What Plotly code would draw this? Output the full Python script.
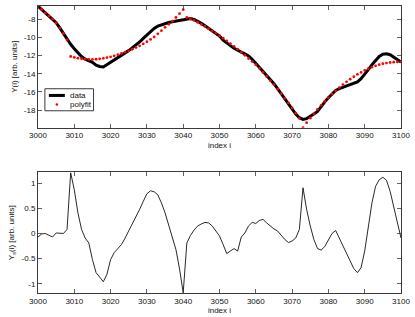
import plotly.graph_objects as go

# ---------------- data ----------------
idx = list(range(3000, 3101))

data_y = [
    -6.55, -6.9, -7.3, -7.65, -8.0, -8.37, -8.95, -9.55, -10.2, -10.75,
    -11.25, -11.7, -12.1, -12.4, -12.55, -12.75, -13.05, -13.2, -13.26, -13.0,
    -12.65, -12.4, -12.2, -11.95, -11.7, -11.45, -11.15, -10.85, -10.5, -10.1,
    -9.7, -9.35, -9.0, -8.75, -8.6, -8.45, -8.35, -8.27, -8.2, -8.12,
    -8.07, -7.95, -7.92, -8.02, -8.2, -8.45, -8.72, -9.0, -9.25, -9.5,
    -9.85, -10.3, -10.65, -10.9, -11.2, -11.45, -11.62, -11.8, -12.05, -12.4,
    -12.85, -13.25, -13.65, -14.1, -14.6, -15.1, -15.65, -16.2, -16.75, -17.4,
    -17.95, -18.45, -18.85, -19.03, -18.95, -18.73, -18.45, -18.15, -17.6, -17.1,
    -16.65, -16.2, -15.85, -15.65, -15.5, -15.38, -15.25, -15.1, -14.9, -14.55,
    -14.1, -13.55, -13.0, -12.5, -12.1, -11.85, -11.8, -11.9, -12.15, -12.4,
    -12.7,
]

fit_y = [
    -6.5, -6.9, -7.3, -7.62, -7.95, -8.38, -8.95, -9.55, -10.28,
    -12.1, -12.2, -12.28, -12.35, -12.4, -12.42, -12.42, -12.4, -12.36, -12.3,
    -12.22, -12.13, -12.02, -11.9, -11.76, -11.62, -11.47, -11.3, -11.12, -10.92,
    -10.7, -10.47, -10.22, -9.95, -9.6, -9.25, -8.88, -8.55, -8.2, -7.8,
    -7.38, -6.92,
    -7.8, -7.95, -8.12, -8.32, -8.55, -8.78, -9.02, -9.27, -9.52, -9.8,
    -10.08, -10.37, -10.67, -10.98, -11.3, -11.63, -11.97, -12.32, -12.66, -13.0,
    -13.4, -13.85, -14.3, -14.75, -15.2, -15.7, -16.2, -16.7, -17.22, -17.78,
    -18.35, -18.92, -19.95,
    -19.4, -18.9, -18.4, -17.93, -17.48, -17.05, -16.64, -16.25, -15.88, -15.53,
    -15.2, -14.89, -14.6, -14.33, -14.08, -13.85, -13.64, -13.45, -13.28, -13.13,
    -13.0, -12.9, -12.82, -12.76, -12.72, -12.7, -12.7,
]

ys = [
    -0.07, -0.01, 0.0, -0.04, -0.07, 0.01, 0.01, 0.0, 0.08, 1.21,
    0.87, 0.41, 0.08, -0.09, -0.19, -0.52, -0.78, -0.86, -0.96, -0.81,
    -0.52, -0.38, -0.30, -0.22, -0.09, 0.05, 0.18, 0.31, 0.48, 0.64,
    0.79, 0.85, 0.83, 0.77, 0.61, 0.41, 0.18, -0.05, -0.32, -0.71,
    -1.18, -0.19, -0.04, 0.07, 0.15, 0.19, 0.22, 0.21, 0.15, 0.05,
    -0.05, -0.22, -0.40, -0.35, -0.30, -0.35, -0.07, 0.01, 0.15, 0.22,
    0.20, 0.26, 0.28, 0.21, 0.15, 0.09, 0.05, -0.04, -0.12, -0.18,
    -0.15, -0.09, 0.08, 0.91, 0.48, 0.15, -0.12, -0.30, -0.33, -0.26,
    -0.12, 0.0, 0.06, -0.09, -0.26, -0.42, -0.55, -0.70, -0.78, -0.68,
    -0.35, 0.15, 0.61, 0.94, 1.07, 1.12, 1.06, 0.84, 0.54, 0.24,
    -0.09,
]

x_ticks = [3000, 3010, 3020, 3030, 3040, 3050, 3060, 3070, 3080, 3090, 3100]
x_ticktext = [str(v) for v in x_ticks]
y1_ticks = [-18, -16, -14, -12, -10, -8]
y1_ticktext = ["-18", "-16", "-14", "-12", "-10", "-8"]
y2_ticks = [-1, -0.5, 0, 0.5, 1]
y2_ticktext = ["-1", "-0.5", "0", "0.5", "1"]
legend_labels = ["data", "polyfit"]

FONT = "Liberation Sans, Arial, sans-serif"
LINE = "#3a3a3a"

fig = go.Figure()
fig.add_trace(go.Scatter(x=idx, y=data_y, mode="lines", name=legend_labels[0],
                         line=dict(color="black", width=3),
                         xaxis="x", yaxis="y", showlegend=False))
fig.add_trace(go.Scatter(x=idx, y=fit_y, mode="markers", name=legend_labels[1],
                         marker=dict(color="red", size=2.8, line=dict(width=0)),
                         xaxis="x", yaxis="y", showlegend=False))
fig.add_trace(go.Scatter(x=idx, y=ys, mode="lines", name="Ys", showlegend=False,
                         line=dict(color="#111111", width=0.9),
                         xaxis="x2", yaxis="y2"))

axis_common = dict(showgrid=False, zeroline=False, showline=True, linecolor=LINE,
                   linewidth=1, mirror="ticks", ticks="inside", ticklen=4,
                   tickcolor=LINE, tickwidth=0.8,
                   tickfont=dict(family=FONT, size=8, color="#111"))

# compact legend box drawn in the top axes (domain coordinates)
shapes = [
    dict(type="rect", xref="x domain", yref="y domain",
         x0=0.019, x1=0.153, y0=0.139, y1=0.32,
         line=dict(color=LINE, width=1), fillcolor="white", layer="above"),
    dict(type="line", xref="x domain", yref="y domain",
         x0=0.030, x1=0.074, y0=0.265, y1=0.265,
         line=dict(color="black", width=3), layer="above"),
    dict(type="circle", xref="x domain", yref="y domain",
         x0=0.0485, x1=0.0555, y0=0.181, y1=0.201,
         line=dict(width=0), fillcolor="red", layer="above"),
]
annotations = [
    dict(text=legend_labels[0], xref="x domain", yref="y domain",
         x=0.082, y=0.265, xanchor="left", yanchor="middle", showarrow=False,
         font=dict(family=FONT, size=8, color="#111")),
    dict(text=legend_labels[1], xref="x domain", yref="y domain",
         x=0.082, y=0.191, xanchor="left", yanchor="middle", showarrow=False,
         font=dict(family=FONT, size=8, color="#111")),
]

fig.update_layout(
    width=415, height=317,
    margin=dict(l=38, r=12, t=5, b=24),
    paper_bgcolor="white", plot_bgcolor="white",
    font=dict(family=FONT, size=8, color="#111"),
    showlegend=False,
    shapes=shapes,
    annotations=annotations,
    xaxis=dict(domain=[0, 1], anchor="y", range=[3000, 3100],
               tickvals=x_ticks, ticktext=x_ticktext,
               title=dict(text="index i", standoff=3,
                          font=dict(family=FONT, size=8)),
               **axis_common),
    yaxis=dict(domain=[0.576, 1], anchor="x", range=[-19.95, -6.53],
               tickvals=y1_ticks, ticktext=y1_ticktext,
               title=dict(text="Y(i) [arb. units]", standoff=5,
                          font=dict(family=FONT, size=8)),
               **axis_common),
    xaxis2=dict(domain=[0, 1], anchor="y2", range=[3000, 3100],
                tickvals=x_ticks, ticktext=x_ticktext,
                title=dict(text="index i", standoff=0,
                           font=dict(family=FONT, size=8)),
                **axis_common),
    yaxis2=dict(domain=[0, 0.42], anchor="x2", range=[-1.185, 1.215],
                tickvals=y2_ticks, ticktext=y2_ticktext,
                title=dict(text="Y<sub>s</sub>(i) [arb. units]", standoff=5,
                           font=dict(family=FONT, size=8)),
                **axis_common),
)

fig.write_html("out.html",
               config={"displayModeBar": False, "staticPlot": True},
               post_script="document.body.style.margin='0px';"
                           "document.body.style.overflow='hidden';")
